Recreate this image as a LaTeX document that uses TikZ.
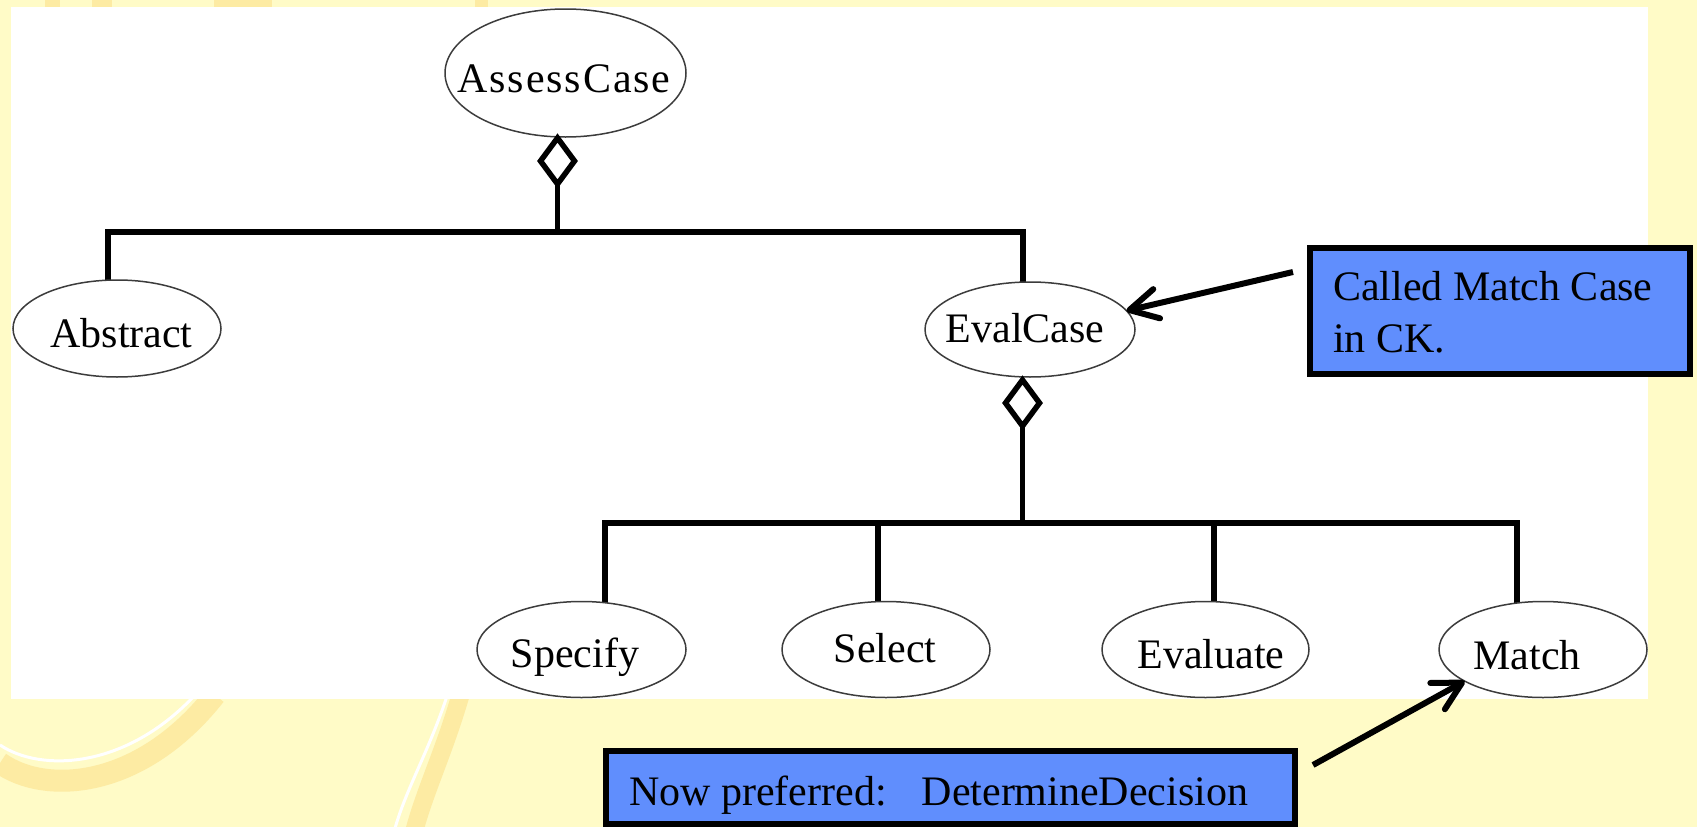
\documentclass[tikz,border=0pt]{standalone}
\usepackage{fontspec}
\setmainfont{Liberation Serif}
\usetikzlibrary{shapes.geometric,arrows.meta}

\definecolor{paper}{RGB}{255,251,199}
\definecolor{swirl}{RGB}{253,235,163}
\definecolor{noteblue}{RGB}{96,142,253}
\definecolor{rim}{RGB}{60,60,60}

\pgfdeclarelayer{paper}
\pgfdeclarelayer{wires}
\pgfsetlayers{paper,wires,main}

\begin{document}
\begin{tikzpicture}[x=1pt,y=-1pt,
  every node/.style={inner sep=0pt,outer sep=0pt},
  usecase/.style={ellipse,draw=rim,line width=1.5pt,fill=white},
  agg/.style={diamond,draw=black,line width=5.5pt,fill=white,
              minimum width=34pt,minimum height=46pt},
  conn/.style={draw=black,line width=5.5pt},
  lbl/.style={font=\fontsize{42}{52}\selectfont,anchor=base},
  note/.style={rectangle,draw=black,line width=6pt,fill=noteblue,anchor=north west},
  notetext/.style={font=\fontsize{42}{52}\selectfont,anchor=base west},
  callout/.style={draw=black,line width=6pt,
                  -{Straight Barb[length=28pt,width=30pt,round]}},
]
\useasboundingbox (0,0) rectangle (1697,827);

% slide paper with its faint swirls, and the white drawing area
\begin{pgfonlayer}{paper}
  \fill[paper] (0,0) rectangle (1697,827);
  \draw[swirl,line width=22pt] (0,763) .. controls (45,795) and (140,790) .. (215,695);
  \draw[white,line width=3pt] (0,745) .. controls (40,772) and (125,770) .. (195,695);
  \draw[swirl,line width=18pt] (462,690) .. controls (445,750) and (425,790) .. (414,832);
  \draw[white,line width=3pt] (449,690) .. controls (430,750) and (405,790) .. (394,832);
  \fill[swirl] (45,0) rectangle (60,7);
  \fill[swirl] (92,0) rectangle (112,7);
  \fill[swirl] (214,0) rectangle (272,7);
  \fill[swirl] (475,0) rectangle (488,7);
  \fill[white] (11,7) rectangle (1648,699);
\end{pgfonlayer}

% use cases
\node[usecase,minimum width=241pt,minimum height=128pt] (assess)   at (565.5,73)    {};
\node[usecase,minimum width=208pt,minimum height=97pt]  (abstract) at (117,328.5)   {};
\node[usecase,minimum width=210pt,minimum height=95pt]  (evalcase) at (1030,329.5)  {};
\node[usecase,minimum width=209pt,minimum height=96pt]  (specify)  at (581.5,649.5) {};
\node[usecase,minimum width=208pt,minimum height=96pt]  (select)   at (886,649.5)   {};
\node[usecase,minimum width=207pt,minimum height=96pt]  (evaluate) at (1205.5,649.5){};
\node[usecase,minimum width=208pt,minimum height=96pt]  (match)    at (1543,649.5)  {};

\node[lbl] (assess-name)   at (564,92)    {\addfontfeature{LetterSpace=4.5}AssessCase};
\node[lbl] (abstract-name) at (121.5,347) {Abstract};
\node[lbl] (evalcase-name) at (1025,342)  {EvalCase};
\node[lbl] (specify-name)  at (575,667)   {Specify};
\node[lbl] (select-name)   at (885,662)   {Select};
\node[lbl] (evaluate-name) at (1211,668)  {Evaluate};
\node[lbl] (match-name)    at (1527,669)  {Match};

% aggregation diamonds
\node[agg] (hasA) at (557.5,161) {};
\node[agg] (hasE) at (1022.5,403) {};

% tree connectors
\coordinate (busA-l) at (108,232);
\coordinate (busA-r) at (1023,232);
\coordinate (busB-1) at (605,523);
\coordinate (busB-2) at (878,523);
\coordinate (busB-3) at (1214,523);
\coordinate (busB-4) at (1517,523);
\begin{pgfonlayer}{wires}
  \draw[conn] (busA-l |- abstract.center) -- (busA-l) -- (busA-r) -- (busA-r |- evalcase.center);
  \draw[conn] (hasA.center) -- (hasA.center |- busA-l);
  \draw[conn] (busB-1 |- specify.center) -- (busB-1) -- (busB-4) -- (busB-4 |- match.center);
  \draw[conn] (busB-2) -- (busB-2 |- select.center);
  \draw[conn] (busB-3) -- (busB-3 |- evaluate.center);
  \draw[conn] (hasE.center) -- (hasE.center |- busB-1);
\end{pgfonlayer}

% notes
\node[note,minimum width=380pt,minimum height=126pt] (ck-note) at (1310,248) {};
\node[notetext] (ck-line1) at (1333,300) {Called Match Case};
\node[notetext] (ck-line2) at (1333,352) {in CK.};

\node[note,minimum width=689pt,minimum height=73pt] (dd-note) at (606,751) {};
\node[notetext] (dd-text) at (629,805) {Now preferred:\hspace{35pt}DetermineDecision};

% note pointers
\coordinate (ck-tail) at (1293,272);
\coordinate (dd-tail) at (1313,765);
\draw[callout] (ck-tail) -- (evalcase.11);
\draw[callout] (dd-tail) -- (match.202);
\end{tikzpicture}
\end{document}
